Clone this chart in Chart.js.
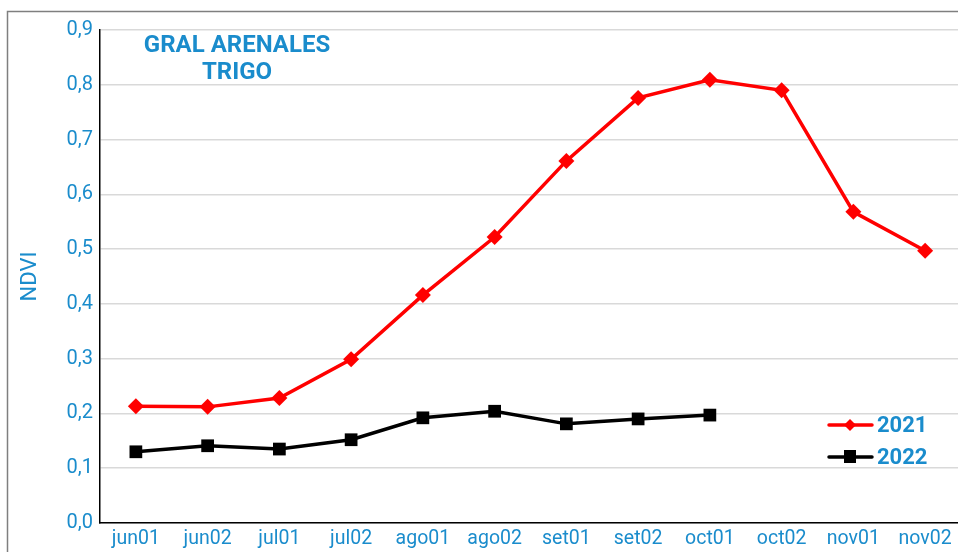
<!DOCTYPE html>
<html>
<head>
<meta charset="utf-8">
<script src="https://cdn.jsdelivr.net/npm/chart.js@4"></script>
<style>
  html, body { margin: 0; padding: 0; background: #fff; overflow: hidden; width: 958px; height: 552px; }
  #wrap { width: 958px; height: 552px; position: relative; overflow: hidden; }
</style>
</head>
<body>
<div id="wrap"><canvas id="c" width="961" height="552"></canvas></div>
<script>
const categories = ['jun01','jun02','jul01','jul02','ago01','ago02','set01','set02','oct01','oct02','nov01','nov02'];
const series2021 = [0.213, 0.212, 0.228, 0.299, 0.416, 0.522, 0.661, 0.776, 0.809, 0.790, 0.568, 0.497];
const series2022 = [0.130, 0.141, 0.135, 0.152, 0.192, 0.204, 0.181, 0.190, 0.197, null, null, null];
const seriesNames = ['2021', '2022'];
const titleLines = ['GRAL ARENALES', 'TRIGO'];
const yTitle = 'NDVI';

const BLUE = '#1a8ccc';
const FONT = 'Roboto';

const decor = {
  id: 'decor',
  beforeDraw(chart) {
    const ctx = chart.ctx;
    ctx.save();
    ctx.fillStyle = '#fff';
    ctx.fillRect(0, 0, chart.width, chart.height);
    ctx.strokeStyle = '#7f7f7f';
    ctx.lineWidth = 1.5;
    ctx.strokeRect(7.5, 11.5, chart.width + 20, chart.height + 20);
    ctx.restore();
  },
  afterDraw(chart) {
    const ctx = chart.ctx;
    ctx.save();
    ctx.fillStyle = BLUE;
    ctx.font = 'bold 24px ' + FONT;
    ctx.textAlign = 'center';
    ctx.textBaseline = 'middle';
    ctx.fillText(titleLines[0], 237, 46);
    ctx.fillText(titleLines[1], 237, 73);
    const rows = [425, 457];
    chart.data.datasets.forEach((ds, i) => {
      const y = rows[i];
      ctx.strokeStyle = ds.borderColor;
      ctx.lineWidth = 3.5;
      ctx.lineCap = 'round';
      ctx.beginPath();
      ctx.moveTo(829, y);
      ctx.lineTo(872, y);
      ctx.stroke();
      ctx.fillStyle = ds.pointBackgroundColor;
      if (ds.pointStyle === 'rectRot') {
        const r = 6;
        ctx.beginPath();
        ctx.moveTo(850, y - r); ctx.lineTo(850 + r, y); ctx.lineTo(850, y + r); ctx.lineTo(850 - r, y);
        ctx.closePath(); ctx.fill();
      } else {
        ctx.fillRect(844, y - 7, 12, 13);
      }
      ctx.fillStyle = BLUE;
      ctx.font = 'bold 22px ' + FONT;
      ctx.textAlign = 'left';
      ctx.textBaseline = 'middle';
      ctx.fillText(ds.label, 877, y + 1);
    });
    ctx.restore();
  }
};

new Chart(document.getElementById('c'), {
  type: 'line',
  data: {
    labels: categories,
    datasets: [
      {
        label: seriesNames[0], data: series2021,
        borderColor: '#ff0000', backgroundColor: '#ff0000',
        pointBackgroundColor: '#ff0000', pointBorderColor: '#ff0000',
        borderWidth: 3.5, pointStyle: 'rectRot', pointRadius: 8, pointBorderWidth: 0,
        tension: 0
      },
      {
        label: seriesNames[1], data: series2022,
        borderColor: '#000000', backgroundColor: '#000000',
        pointBackgroundColor: '#000000', pointBorderColor: '#000000',
        borderWidth: 3.5, pointStyle: 'rect', pointRadius: 9, pointBorderWidth: 0,
        tension: 0, spanGaps: false
      }
    ]
  },
  options: {
    responsive: false,
    animation: false,
    devicePixelRatio: 1,
    layout: { autoPadding: false, padding: { top: 30, left: 7, right: 0, bottom: 0 } },
    plugins: { legend: { display: false }, title: { display: false }, tooltip: { enabled: false } },
    scales: {
      x: {
        offset: true,
        grid: { display: false, drawTicks: false, offset: true },
        border: { display: true, color: '#000', width: 1.5 },
        ticks: { color: BLUE, font: { family: FONT, size: 19.5 }, padding: 4, maxRotation: 0, autoSkip: false },
        afterFit(scale) { scale.height = 29; scale.paddingLeft = 0; scale.paddingRight = 0; }
      },
      y: {
        min: 0, max: 0.9,
        grid: { color: '#d9d9d9', lineWidth: 1.5, drawTicks: false },
        border: { display: true, color: '#000', width: 1.5 },
        ticks: {
          stepSize: 0.1, color: BLUE, font: { family: FONT, size: 20 }, padding: 7,
          callback: v => v.toFixed(1).replace('.', ',')
        },
        title: { display: true, text: yTitle, color: BLUE, font: { family: FONT, size: 22 }, padding: { top: 10, bottom: 0 } },
        afterFit(scale) { scale.width = 93; }
      }
    }
  },
  plugins: [decor]
});
</script>
</body>
</html>
